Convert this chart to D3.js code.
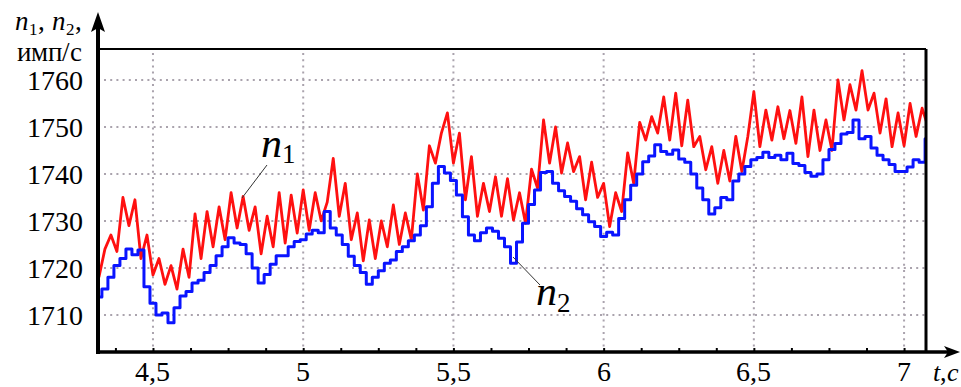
<!DOCTYPE html>
<html>
<head>
<meta charset="utf-8">
<script src="https://cdn.jsdelivr.net/npm/d3@7"></script>
<style>
  @font-face { font-family: "ChartSerif"; font-style: normal; src: local("Liberation Serif"), local("LiberationSerif"), local("Liberation Serif Regular"), local("LiberationSerif-Regular"); }
  @font-face { font-family: "ChartSerif"; font-style: italic; src: local("Liberation Serif Italic"), local("LiberationSerif-Italic"); }
  html, body { margin: 0; padding: 0; background: #fff; }
  svg { display: block; }
  #chart text { font-family: "ChartSerif", "Liberation Serif", serif; }
</style>
</head>
<body>
<svg id="chart" width="961" height="387"></svg>
<script>
// ---- data ----
const tStart = 4.32, tStep = 0.02;           // sampling of both series, s
const n2Values = [
  1713.8,1715.5,1718.0,1720.5,1722.0,1724.0,1722.8,1723.8,1716.0,1712.5,
  1710.0,1710.4,1708.3,1711.5,1714.0,1715.0,1716.8,1717.4,1719.0,1720.5,
  1722.6,1724.5,1726.4,1725.3,1725.0,1723.0,1720.0,1716.8,1718.6,1720.8,
  1722.6,1722.6,1724.5,1725.6,1726.0,1727.2,1728.0,1727.5,1732.0,1728.5,
  1727.0,1725.0,1722.5,1720.5,1719.0,1716.5,1718.0,1719.4,1721.0,1721.7,
  1723.5,1724.5,1725.8,1727.0,1729.0,1733.0,1738.0,1741.6,1740.2,1738.6,
  1735.5,1730.9,1727.0,1725.8,1727.5,1728.5,1727.8,1726.3,1724.5,1721.0,
  1725.5,1729.5,1733.5,1736.6,1740.3,1740.5,1738.0,1736.4,1735.2,1734.2,
  1732.6,1731.3,1729.8,1728.8,1726.7,1727.6,1727.0,1730.5,1734.5,1737.6,
  1740.0,1742.6,1743.8,1746.2,1744.8,1744.2,1745.1,1743.2,1742.5,1740.0,
  1737.0,1734.5,1731.5,1732.8,1735.0,1734.5,1738.5,1740.0,1741.6,1743.0,
  1743.5,1744.6,1743.5,1744.0,1743.0,1744.4,1742.2,1741.8,1740.3,1739.5,
  1740.0,1743.0,1745.2,1746.5,1748.5,1748.8,1751.5,1747.5,1748.0,1745.5,
  1744.0,1743.0,1742.0,1740.5,1740.5,1741.5,1743.0,1742.5,1747.5
];
const n1Values = [
  1718.0,1724.0,1727.0,1723.5,1735.0,1729.0,1734.5,1722.0,1727.0,1718.5,
  1722.0,1716.5,1720.5,1715.5,1724.0,1718.0,1731.5,1722.0,1732.0,1724.5,
  1733.0,1726.0,1736.0,1728.5,1735.2,1728.0,1733.0,1723.0,1731.0,1724.5,
  1736.0,1725.3,1735.5,1727.4,1736.6,1728.0,1736.0,1730.0,1734.0,1743.3,
  1731.0,1738.0,1726.0,1731.7,1721.5,1730.2,1722.0,1730.0,1724.5,1733.4,
  1725.0,1731.7,1726.0,1740.0,1732.3,1746.0,1742.3,1748.7,1753.0,1742.3,
  1748.7,1734.5,1743.7,1731.0,1738.0,1732.0,1739.4,1731.0,1739.0,1730.2,
  1736.0,1729.5,1741.0,1737.0,1751.5,1742.3,1750.0,1740.2,1746.6,1740.5,
  1743.7,1734.5,1742.5,1735.0,1738.0,1728.8,1736.0,1732.0,1744.5,1738.0,
  1751.0,1747.2,1752.2,1748.7,1756.4,1747.2,1757.2,1746.0,1755.7,1745.8,
  1748.0,1740.9,1745.8,1738.0,1745.0,1738.5,1748.0,1740.5,1748.0,1757.5,
  1745.8,1753.6,1747.2,1754.3,1747.5,1753.5,1746.5,1756.4,1743.7,1753.6,
  1745.0,1751.5,1745.0,1760.0,1751.5,1759.0,1753.6,1762.0,1753.6,1757.2,
  1748.7,1756.0,1745.8,1753.0,1746.0,1755.0,1748.0,1754.0,1750.0
];
const xTicks = [4.5, 5, 5.5, 6, 6.5, 7];
const xTickLabels = ["4,5", "5", "5,5", "6", "6,5", "7"];
const yTicks = [1710, 1720, 1730, 1740, 1750, 1760];
const xMinor = [4.375,4.5,4.625,4.75,4.875,5,5.125,5.25,5.375,5.5,5.625,5.75,5.875,6,6.125,6.25,6.375,6.5,6.625,6.75,6.875,7];

// ---- layout ----
const svg = d3.select("#chart");
const L = 98, R = 926, T = 49, B = 352;
const x = d3.scaleLinear().domain([4.317, 7.073]).range([L, R]);
const y = d3.scaleLinear().domain([1702.1, 1766.6]).range([B, T]);

const times = n1Values.map((_, i) => +(tStart + i * tStep).toFixed(3));
const s1 = times.map((t, i) => [t, n1Values[i]]);
const s2 = times.map((t, i) => [t, n2Values[i]]);

svg.append("defs").append("clipPath").attr("id", "clip")
  .append("rect").attr("x", L).attr("y", T).attr("width", R - L).attr("height", B - T);

// grid
const grid = svg.append("g").attr("stroke", "#aaa3ad").attr("stroke-width", 2)
  .attr("stroke-dasharray", "2 4.2");
grid.selectAll("line.v").data(xTicks).join("line").attr("class", "v")
  .attr("x1", d => x(d)).attr("x2", d => x(d)).attr("y1", T + 4).attr("y2", B);
grid.selectAll("line.h").data(yTicks).join("line").attr("class", "h")
  .attr("x1", L + 6).attr("x2", R).attr("y1", d => y(d)).attr("y2", d => y(d));

// series
const lineRed = d3.line().x(d => x(d[0])).y(d => y(d[1])).curve(d3.curveLinear);
const lineBlue = d3.line().x(d => x(d[0])).y(d => y(d[1])).curve(d3.curveStep);
const gData = svg.append("g").attr("clip-path", "url(#clip)");
gData.append("path").datum(s1).attr("d", lineRed).attr("fill", "none")
  .attr("stroke", "#ff1010").attr("stroke-width", 2.8).attr("stroke-linejoin", "round");
gData.append("path").datum(s2).attr("d", lineBlue).attr("fill", "none")
  .attr("stroke", "#0a14ff").attr("stroke-width", 3).attr("stroke-linejoin", "round");

// frame
svg.append("line").attr("x1", L).attr("x2", R).attr("y1", T).attr("y2", T)
  .attr("stroke", "#000").attr("stroke-width", 2);
svg.append("line").attr("x1", R).attr("x2", R).attr("y1", T).attr("y2", B)
  .attr("stroke", "#000").attr("stroke-width", 3);

// minor ticks inside (axis generator, lines only)
const gxm = svg.append("g").attr("transform", `translate(0,${B})`)
  .call(d3.axisTop(x).tickValues(xMinor).tickFormat("").tickSize(4));
gxm.attr("font-family", null).attr("font-size", null);
gxm.select(".domain").remove();
gxm.selectAll("text").remove();
gxm.selectAll("line").attr("stroke", "#000").attr("stroke-width", 2);

// tick labels placed with the scales
svg.append("g").selectAll("text").data(xTicks).join("text")
  .attr("x", d => x(d)).attr("y", B + 29).attr("text-anchor", "middle")
  .attr("font-size", 28).attr("fill", "#000")
  .text((d, i) => xTickLabels[i]);
svg.append("g").selectAll("text").data(yTicks).join("text")
  .attr("x", L - 15).attr("y", d => y(d) + 10).attr("text-anchor", "end")
  .attr("font-size", 28).attr("fill", "#000")
  .text(d => d);

svg.append("line").attr("x1", L - 2).attr("x2", 948).attr("y1", B).attr("y2", B)
  .attr("stroke", "#000").attr("stroke-width", 3.5);
svg.append("path").attr("d", `M960,${B} L944,${B - 6} L948,${B} L944,${B + 6} Z`).attr("fill", "#000");

svg.append("line").attr("x1", L).attr("x2", L).attr("y1", 26).attr("y2", B + 2)
  .attr("stroke", "#000").attr("stroke-width", 4);
svg.append("path").attr("d", `M${L},12 L${L - 7},32 L${L},28 L${L + 7},32 Z`).attr("fill", "#000");

// axis titles
const yt = svg.append("text").attr("x", 82).attr("y", 30).attr("text-anchor", "end")
  .attr("font-size", 27);
yt.append("tspan").attr("font-style", "italic").text("n");
yt.append("tspan").attr("dy", 5).attr("font-size", 17).text("1");
yt.append("tspan").attr("dy", -5).text(", ");
yt.append("tspan").attr("font-style", "italic").text("n");
yt.append("tspan").attr("dy", 5).attr("font-size", 17).text("2");
yt.append("tspan").attr("dy", -5).text(",");
svg.append("text").attr("x", 82).attr("y", 61).attr("text-anchor", "end")
  .attr("font-size", 27).text("имп/с");

const xt = svg.append("text").attr("x", 933).attr("y", 381)
  .attr("font-size", 26).attr("font-style", "italic");
xt.append("tspan").text("t");
xt.append("tspan").attr("font-style", "normal").text(",");
xt.append("tspan").text("c");

// series labels
const l1 = svg.append("text").attr("x", 261).attr("y", 157).attr("font-size", 42);
l1.append("tspan").attr("font-style", "italic").text("n");
l1.append("tspan").attr("dy", 6).attr("font-size", 27).text("1");
svg.append("line").attr("x1", 267).attr("y1", 165).attr("x2", 242).attr("y2", 198)
  .attr("stroke", "#333").attr("stroke-width", 1);

const l2 = svg.append("text").attr("x", 536).attr("y", 305).attr("font-size", 42);
l2.append("tspan").attr("font-style", "italic").text("n");
l2.append("tspan").attr("dy", 7).attr("font-size", 27).text("2");
svg.append("line").attr("x1", 513).attr("y1", 257).attr("x2", 540).attr("y2", 285)
  .attr("stroke", "#333").attr("stroke-width", 1);
</script>
</body>
</html>
